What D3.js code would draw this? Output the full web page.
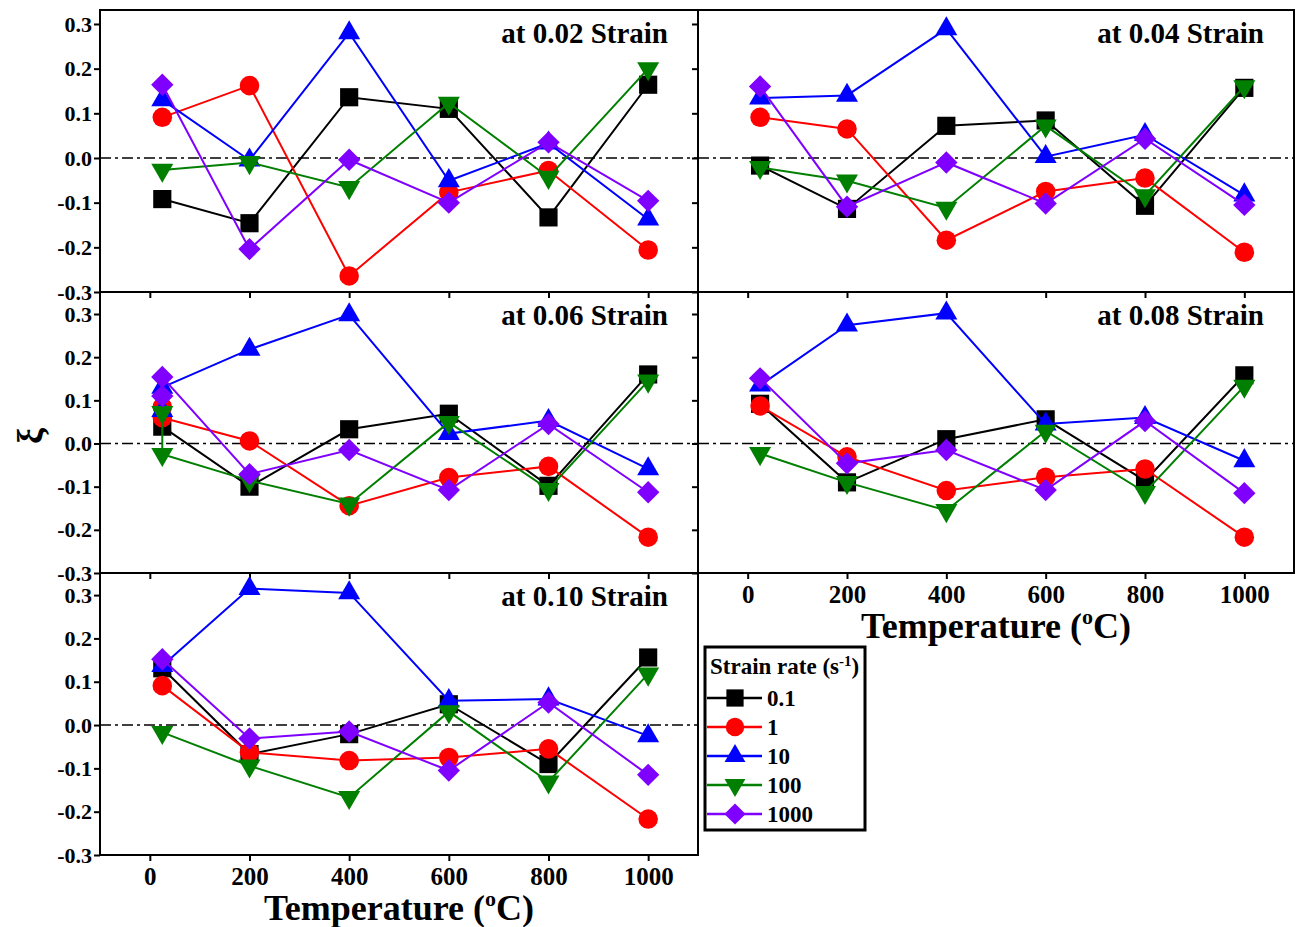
<!DOCTYPE html>
<html>
<head>
<meta charset="utf-8">
<script src="https://cdn.jsdelivr.net/npm/d3@7"></script>
<style>
  body { margin: 0; background: #fff; }
  svg text { font-family: "Times New Roman", "Liberation Serif", Times, serif !important; font-weight: bold; }
</style>
</head>
<body>
<div id="plot"></div>
<script>
// Temperatures (x) and the strain rate series
var temps = [25, 200, 400, 600, 800, 1000];
var rateLabels = ["0.1", "1", "10", "100", "1000"];
var rateColors = ["#000000", "#ff0000", "#0000ff", "#007f00", "#7f00ff"];
var strainLabels = ["0.02", "0.04", "0.06", "0.08", "0.10"];
var xTicks = [0, 200, 400, 600, 800, 1000];
var yTicks = [-0.3, -0.2, -0.1, 0.0, 0.1, 0.2, 0.3];

// xi values, one row per strain rate (0.1, 1, 10, 100, 1000)
var xi002 = [
  [-0.092, -0.146, 0.136, 0.110, -0.133, 0.164],
  [0.091, 0.162, -0.264, -0.077, -0.028, -0.206],
  [0.130, -0.005, 0.280, -0.051, 0.033, -0.137],
  [-0.027, -0.010, -0.066, 0.123, -0.043, 0.200],
  [0.164, -0.204, -0.004, -0.100, 0.035, -0.096]
];
var xi004 = [
  [-0.017, -0.114, 0.072, 0.084, -0.107, 0.157],
  [0.091, 0.065, -0.184, -0.075, -0.045, -0.211],
  [0.134, 0.140, 0.289, 0.003, 0.052, -0.083],
  [-0.021, -0.051, -0.112, 0.072, -0.084, 0.160],
  [0.160, -0.109, -0.010, -0.102, 0.043, -0.105]
];
var xi006 = [
  [0.039, -0.100, 0.033, 0.069, -0.098, 0.160],
  [0.060, 0.006, -0.144, -0.079, -0.053, -0.217],
  [0.130, 0.218, 0.298, 0.023, 0.053, -0.059],
  [-0.025, -0.086, -0.140, 0.049, -0.106, 0.145],
  [0.154, -0.071, -0.015, -0.108, 0.045, -0.113]
];
// second reading at room temperature in the 0.06 panel
var xi006rt = [null, 0.085, 0.076, 0.072, 0.110];
var xi008 = [
  [0.092, -0.090, 0.010, 0.056, -0.086, 0.158],
  [0.087, -0.031, -0.109, -0.078, -0.059, -0.217],
  [0.135, 0.274, 0.302, 0.045, 0.060, -0.040],
  [-0.023, -0.090, -0.155, 0.029, -0.113, 0.133],
  [0.151, -0.046, -0.015, -0.108, 0.052, -0.115]
];
var xi010 = [
  [0.131, -0.067, -0.021, 0.048, -0.090, 0.156],
  [0.091, -0.063, -0.082, -0.075, -0.055, -0.217],
  [0.137, 0.315, 0.305, 0.056, 0.060, -0.025],
  [-0.017, -0.094, -0.167, 0.031, -0.131, 0.118],
  [0.152, -0.031, -0.015, -0.105, 0.052, -0.115]
];

var FONT = "'Times New Roman', 'Liberation Serif', serif";
var W = 1304, H = 927;
var svg = d3.select("#plot").append("svg")
    .attr("width", W)
    .attr("height", H)
    .attr("font-family", FONT);

// panel frames
var panels = [
  {data: xi002, label: strainLabels[0], x0: 100, x1: 698, y0: 10, y1: 292, yTop: 0.3313, yLab: true, xLab: false},
  {data: xi004, label: strainLabels[1], x0: 698, x1: 1294, y0: 10, y1: 292, yTop: 0.3313, yLab: false, xLab: false},
  {data: xi006, label: strainLabels[2], x0: 100, x1: 698, y0: 292, y1: 573, yTop: 0.351, yLab: true, xLab: false, rt2: xi006rt},
  {data: xi008, label: strainLabels[3], x0: 698, x1: 1294, y0: 292, y1: 573, yTop: 0.351, yLab: false, xLab: true},
  {data: xi010, label: strainLabels[4], x0: 100, x1: 698, y0: 573, y1: 855, yTop: 0.351, yLab: true, xLab: true}
];

var symbols = [
  {type: d3.symbolSquare, size: 330, rot: 0},
  {type: d3.symbolCircle, size: 300, rot: 0},
  {type: d3.symbolTriangle, size: 210, rot: 0},
  {type: d3.symbolTriangle, size: 210, rot: 180},
  {type: d3.symbolSquare, size: 250, rot: 45}
];

function drawMarker(g, i, cx, cy, scale) {
  var s = symbols[i];
  g.append("path")
    .attr("d", d3.symbol().type(s.type).size(s.size * (scale || 1))())
    .attr("transform", `translate(${cx},${cy}) rotate(${s.rot})`)
    .attr("fill", rateColors[i]);
}

// draw the frames first, so the markers can spill over neighbours
panels.forEach(function(p) {
  svg.append("rect")
    .attr("x", p.x0).attr("y", p.y0)
    .attr("width", p.x1 - p.x0).attr("height", p.y1 - p.y0)
    .attr("fill", "none").attr("stroke", "#000").attr("stroke-width", 2);
});

panels.forEach(function(p) {
  var x = d3.scaleLinear().domain([-100, 1100]).range([p.x0, p.x1]);
  var y = d3.scaleLinear().domain([-0.3, p.yTop]).range([p.y1, p.y0]);
  var g = svg.append("g");

  // Y axis
  var ya = g.append("g")
    .attr("transform", `translate(${p.x0},0)`)
    .call(d3.axisLeft(y).tickValues(yTicks).tickSize(6).tickPadding(2)
      .tickFormat(d => p.yLab ? d.toFixed(1) : ""));
  ya.attr("font-family", FONT);
  ya.select(".domain").remove();
  ya.selectAll("line").attr("stroke-width", 2);
  ya.selectAll("text").attr("font-family", FONT).style("font-size", "22px").attr("fill", "#000");

  // X axis
  var xa = g.append("g")
    .attr("transform", `translate(0,${p.y1})`)
    .call(d3.axisBottom(x).tickValues(xTicks).tickSize(6).tickPadding(6)
      .tickFormat(d => p.xLab ? d : ""));
  xa.attr("font-family", FONT);
  xa.select(".domain").remove();
  xa.selectAll("line").attr("stroke-width", 2);
  xa.selectAll("text").attr("font-family", FONT).style("font-size", "25px").attr("fill", "#000");

  if (p.xLab) {
    var t = g.append("text")
      .attr("x", (p.x0 + p.x1) / 2)
      .attr("y", p.y1 + 65)
      .attr("text-anchor", "middle")
      .style("font-size", "36px");
    t.append("tspan").text("Temperature (");
    t.append("tspan").text("o").attr("dy", -14).style("font-size", "22px");
    t.append("tspan").text("C)").attr("dy", 14);
  }

  // zero reference line
  g.append("line")
    .attr("x1", p.x0).attr("x2", p.x1)
    .attr("y1", y(0)).attr("y2", y(0))
    .attr("stroke", "#000").attr("stroke-width", 1.6)
    .attr("stroke-dasharray", "11,4,3,4");

  // panel label
  g.append("text")
    .attr("x", p.x1 - 30)
    .attr("y", p.y0 + 33)
    .attr("text-anchor", "end")
    .style("font-size", "29px")
    .text("at " + p.label + " Strain");

  var line = d3.line().x(d => x(d[0])).y(d => y(d[1]));

  p.data.forEach(function(vals, i) {
    var pts = vals.map((v, k) => [temps[k], v]);
    if (p.rt2 && p.rt2[i] !== null) pts.unshift([temps[0], p.rt2[i]]);
    g.append("path")
      .attr("d", line(pts))
      .attr("fill", "none")
      .attr("stroke", rateColors[i])
      .attr("stroke-width", 2);
    pts.forEach(function(d) { drawMarker(g, i, x(d[0]), y(d[1])); });
  });
});

// y axis label
svg.append("text")
  .attr("transform", "translate(42,436) rotate(-90)")
  .attr("text-anchor", "middle")
  .style("font-size", "36px")
  .text("ξ");

// Legend
var lg = svg.append("g").attr("transform", "translate(705,647)");
lg.append("rect")
  .attr("width", 160).attr("height", 183)
  .attr("fill", "#fff").attr("stroke", "#000").attr("stroke-width", 3);
var lt = lg.append("text").attr("x", 5).attr("y", 27).style("font-size", "23px");
lt.append("tspan").text("Strain rate (s");
lt.append("tspan").text("-1").attr("dy", -8).style("font-size", "15px");
lt.append("tspan").text(")").attr("dy", 8);

rateLabels.forEach(function(r, i) {
  var cy = 51 + i * 29;
  lg.append("line")
    .attr("x1", 2).attr("x2", 57)
    .attr("y1", cy).attr("y2", cy)
    .attr("stroke", rateColors[i]).attr("stroke-width", 2.5);
  drawMarker(lg, i, 30, cy, 0.9);
  lg.append("text")
    .attr("x", 62).attr("y", cy + 8)
    .style("font-size", "23px")
    .text(r);
});
</script>
</body>
</html>
